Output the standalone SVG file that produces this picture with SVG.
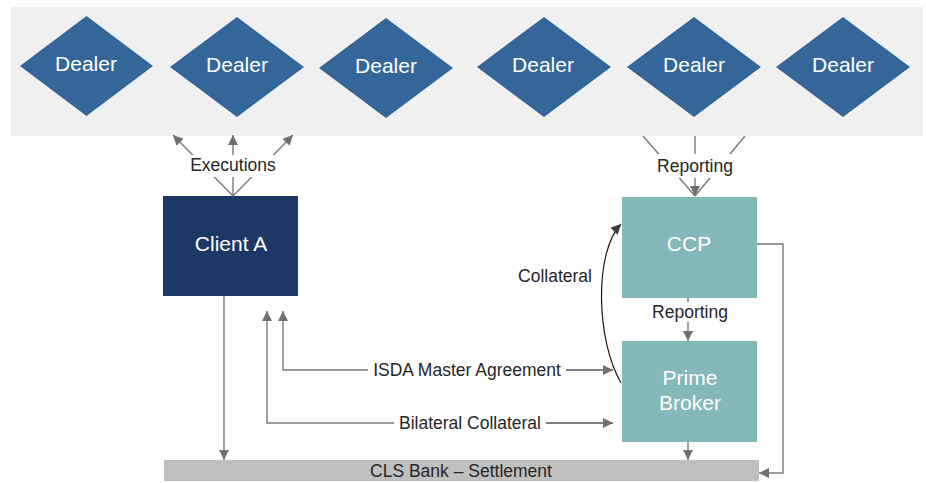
<svg xmlns="http://www.w3.org/2000/svg" width="926" height="483" viewBox="0 0 926 483">
  <style>
    .dealer { fill: #346699; }
    .node-text { font-family: "Liberation Sans", Arial, sans-serif; font-size: 21px; fill: #ffffff; text-anchor: middle; }
    .label { font-family: "Liberation Sans", Arial, sans-serif; font-size: 17.5px; fill: #262626; text-anchor: middle; }
    .conn { fill: none; stroke: #7a7a7a; stroke-width: 1.4; }
    .curve { fill: none; stroke: #1a1a1a; stroke-width: 1.2; }
    .mask { fill: #ffffff; }
  </style>
  <defs>
    <marker id="arrow" markerUnits="userSpaceOnUse" markerWidth="11" markerHeight="10" refX="10" refY="5" orient="auto">
      <path d="M0,0 L10,5 L0,10 Z" fill="#6f6f6f"/>
    </marker>
    <marker id="arrow-dark" markerUnits="userSpaceOnUse" markerWidth="11" markerHeight="10" refX="10" refY="5" orient="auto">
      <path d="M0,0 L10,5 L0,10 Z" fill="#3a3a3a"/>
    </marker>
  </defs>

  <!-- dealer band -->
  <rect x="11" y="7" width="912" height="129" fill="#f0f0f0"/>

  <g id="dealer-1"><polygon class="dealer" points="86.5,16 153,66 86.5,116 20,66"/><text class="node-text" x="86" y="71">Dealer</text></g>
  <g id="dealer-2"><polygon class="dealer" points="237,17 304,67 237,117 170,67"/><text class="node-text" x="237" y="72">Dealer</text></g>
  <g id="dealer-3"><polygon class="dealer" points="386,18 453,68 386,118 319,68"/><text class="node-text" x="386" y="73">Dealer</text></g>
  <g id="dealer-4"><polygon class="dealer" points="544,17 611,67 544,117 477,67"/><text class="node-text" x="543" y="72">Dealer</text></g>
  <g id="dealer-5"><polygon class="dealer" points="694,17 761,67 694,117 627,67"/><text class="node-text" x="694" y="72">Dealer</text></g>
  <g id="dealer-6"><polygon class="dealer" points="843,17 910,67 843,117 776,67"/><text class="node-text" x="843" y="72">Dealer</text></g>

  <g id="client-a"><rect x="163" y="196" width="135" height="100" fill="#1d3767"/><text class="node-text" x="231" y="251">Client A</text></g>
  <g id="ccp"><rect x="622" y="197" width="135" height="101" fill="#84b8b9"/><text class="node-text" x="689" y="251">CCP</text></g>
  <g id="prime-broker"><rect x="622" y="341" width="135" height="101" fill="#84b8b9"/><text class="node-text" x="690" y="385">Prime</text><text class="node-text" x="690" y="410">Broker</text></g>
  <g id="cls-bank"><rect x="164" y="460" width="595" height="21" fill="#bfbfbf"/><text class="label" x="461" y="477">CLS Bank – Settlement</text></g>

  <g id="connectors">
    <!-- executions fan -->
    <line class="conn" x1="233" y1="196" x2="173" y2="135" marker-end="url(#arrow)"/>
    <line class="conn" x1="233" y1="196" x2="233" y2="135" marker-end="url(#arrow)"/>
    <line class="conn" x1="233" y1="196" x2="293" y2="135" marker-end="url(#arrow)"/>
    <rect class="mask" x="186" y="155" width="94" height="22"/>
    <text class="label" x="233" y="171">Executions</text>

    <!-- reporting fan into CCP -->
    <line class="conn" x1="643" y1="136" x2="695" y2="196"/>
    <line class="conn" x1="695" y1="136" x2="695" y2="196" marker-end="url(#arrow)"/>
    <line class="conn" x1="745" y1="136" x2="695" y2="196"/>
    <rect class="mask" x="652" y="154" width="86" height="24"/>
    <text class="label" x="695" y="172">Reporting</text>

    <!-- CCP to prime broker -->
    <line class="conn" x1="688" y1="298" x2="688" y2="341" marker-end="url(#arrow)"/>
    <rect class="mask" x="648" y="302" width="86" height="20"/>
    <text class="label" x="690" y="318">Reporting</text>

    <!-- prime broker to settlement -->
    <line class="conn" x1="688" y1="442" x2="688" y2="460" marker-end="url(#arrow)"/>

    <!-- client A to settlement -->
    <line class="conn" x1="224" y1="296" x2="224" y2="460" marker-end="url(#arrow)"/>

    <!-- CCP to settlement -->
    <polyline class="conn" points="757,244 783,244 783,473 759,473" marker-end="url(#arrow)"/>

    <!-- ISDA master agreement -->
    <polyline class="conn" points="613,370 283,370 283,311" marker-end="url(#arrow)"/>
    <line class="conn" x1="566" y1="370" x2="613" y2="370" marker-end="url(#arrow)"/>
    <rect class="mask" x="368" y="360" width="198" height="20"/>
    <text class="label" x="467" y="376">ISDA Master Agreement</text>

    <!-- bilateral collateral -->
    <polyline class="conn" points="613,423 267,423 267,311" marker-end="url(#arrow)"/>
    <line class="conn" x1="546" y1="423" x2="613" y2="423" marker-end="url(#arrow)"/>
    <rect class="mask" x="394" y="413" width="152" height="20"/>
    <text class="label" x="470" y="429">Bilateral Collateral</text>

    <!-- collateral from prime broker to CCP -->
    <path class="curve" d="M621,383 C596,340 594,252 621,224" marker-end="url(#arrow-dark)"/>
    <text class="label" x="555" y="282">Collateral</text>
  </g>
</svg>
